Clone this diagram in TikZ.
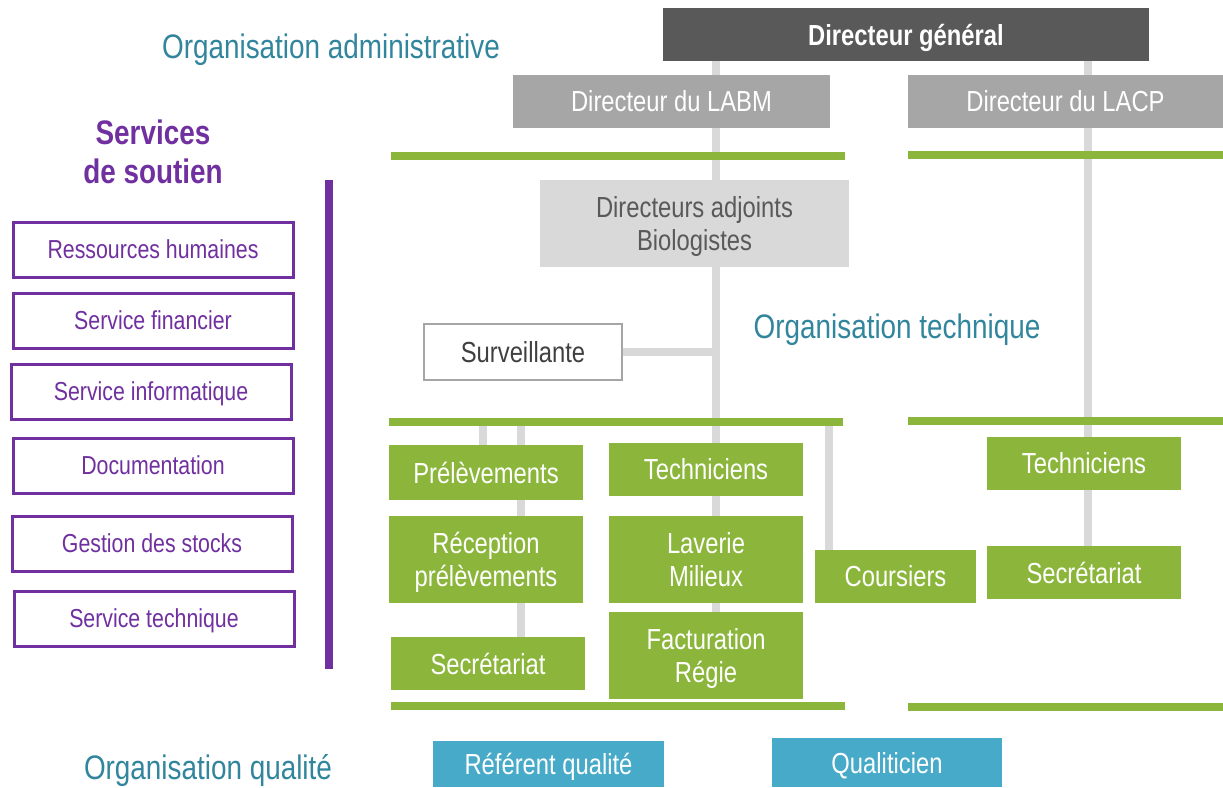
\documentclass[tikz,border=0pt]{standalone}
\usepackage{fontspec}
\setmainfont{Liberation Sans}[FakeStretch=0.82]
\usetikzlibrary{backgrounds}

\definecolor{orgteal}{HTML}{31859C}
\definecolor{cgreen}{HTML}{8BB63B}
\definecolor{cdark}{HTML}{595959}
\definecolor{cmid}{HTML}{A6A6A6}
\definecolor{clight}{HTML}{D9D9D9}
\definecolor{cpurple}{HTML}{7030A0}
\definecolor{cblue}{HTML}{46AAC8}

% a line whose descenders do not count for vertical centring
\newcommand\flatline[1]{\raisebox{0pt}[\height][0pt]{#1}}

\tikzset{
  box/.style={rectangle, inner sep=0pt, align=center,
    font=\fontsize{29}{33}\selectfont},
  greenbox/.style={box, fill=cgreen, text=white,
    minimum width=194pt},
  bluebox/.style={box, fill=cblue, text=white},
  supbox/.style={rectangle, inner sep=0pt, draw=cpurple, line width=3pt,
    fill=white, text=cpurple, minimum width=280pt, minimum height=55pt,
    font=\fontsize{26}{30}\selectfont},
  heading/.style={text=orgteal, inner sep=0pt,
    font=\fontsize{34}{38}\selectfont},
  conn/.style={draw=clight, line width=8pt},
  band/.style={draw=cgreen, line width=8pt},
}

\begin{document}
\begin{tikzpicture}[x=1pt, y=-1pt]
\useasboundingbox (0,0) rectangle (1223,787);

% headings
\node[heading] (hadm)  at (331,46)  {\flatline{Organisation administrative}};
\node[heading] (htech) at (897,326) {\flatline{Organisation technique}};
\node[heading] (hqual) at (208,767) {\flatline{Organisation qualité}};

% direction
\node[box, fill=cdark, text=white, minimum width=486pt, minimum height=53pt,
  font=\fontsize{29}{33}\selectfont\bfseries] (dg) at (906,34.5) {\flatline{Directeur général}};
\node[box, fill=cmid, text=white, minimum width=317pt, minimum height=53pt]
  (labm) at (671.5,101.5) {Directeur du LABM};
\node[box, fill=cmid, text=white, minimum width=315pt, minimum height=53pt]
  (lacp) at (1065.5,101.5) {Directeur du LACP};
\node[box, fill=clight, text=cdark, minimum width=309pt, minimum height=87pt]
  (adj) at (694.5,223.5) {Directeurs adjoints\\\flatline{Biologistes}};
\node[box, fill=white, draw=cmid, line width=2pt, text=black!75,
  minimum width=198pt, minimum height=56pt]
  (surv) at (523,352) {Surveillante};

% technical units
\node[greenbox, minimum height=55pt] (prel)  at (486,472.5) {Prélèvements};
\node[greenbox, minimum height=87pt] (recep) at (486,559.5) {Réception\\\flatline{prélèvements}};
\node[greenbox, minimum height=53pt] (secl)  at (488,663.5) {Secrétariat};
\node[greenbox, minimum height=53pt] (techm) at (706,469.5) {Techniciens};
\node[greenbox, minimum height=87pt] (lav)   at (706,559.5) {Laverie\\Milieux};
\node[greenbox, minimum height=87pt] (fact)  at (706,655.5) {Facturation\\\flatline{Régie}};
\node[greenbox, minimum width=161pt, minimum height=53pt] (cour) at (895.5,576.5) {Coursiers};
\node[greenbox, minimum height=53pt] (techr) at (1084,463.5) {Techniciens};
\node[greenbox, minimum height=53pt] (secr)  at (1084,572.5) {Secrétariat};

% quality
\node[bluebox, minimum width=231pt, minimum height=46pt] (ref)  at (548.5,764) {\flatline{Référent qualité}};
\node[bluebox, minimum width=230pt, minimum height=49pt] (qual) at (887,762.5) {\flatline{Qualiticien}};

% support services
\node[text=cpurple, align=center, inner sep=0pt,
  font=\fontsize{34}{39}\selectfont\bfseries] (soutien) at (153,151.5) {Services\\de soutien};
\node[supbox] (rh)   at (153,249.5) {Ressources humaines};
\node[supbox] (fin)  at (153,320.5) {Service financier};
\node[supbox] (info) at (151,391.5) {\flatline{Service informatique}};
\node[supbox] (doc)  at (153,465.5) {Documentation};
\node[supbox] (stk)  at (152,543.5) {Gestion des stocks};
\node[supbox] (tec)  at (154,618.5) {\flatline{Service technique}};
\coordinate (supTop) at (329,180);
\coordinate (supBot) at (329,669);
\draw[cpurple, line width=8pt] (supTop) -- (supBot);

\begin{pgfonlayer}{background}
  % reporting lines
  \coordinate (spine)  at (716,0);
  \coordinate (spineR) at (1088,0);
  \coordinate (tapA) at (483,422);
  \coordinate (tapB) at (521,422);
  \coordinate (tapC) at (829,422);
  \draw[conn] (spine |- dg.south) -- (spine |- fact.north);
  \draw[conn] (spineR |- dg.south) -- (spineR |- secr.north);
  \draw[conn] (surv.east) -- (spine |- surv.east);
  \draw[conn] (tapA) -- (tapA |- prel.north);
  \draw[conn] (tapB) -- (tapB |- secl.north);
  \draw[conn] (tapC) -- (tapC |- cour.north);
  % separating bands
  \draw[band] (391,156) -- (845,156);
  \draw[band] (908,155) -- (1223,155);
  \draw[band] (389,422) -- (843,422);
  \draw[band] (908,421) -- (1223,421);
  \draw[band] (391,706) -- (845,706);
  \draw[band] (908,707) -- (1223,707);
\end{pgfonlayer}
\end{tikzpicture}
\end{document}
